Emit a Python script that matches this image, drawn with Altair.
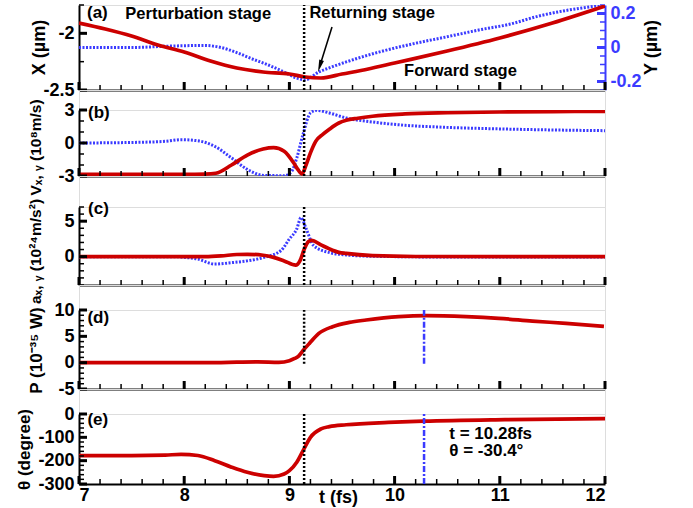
import altair as alt
import pandas as pd

# ---------------- data ----------------
# panel (a): X (left axis) and Y (right axis), micrometres
t_X = [7.0, 7.25, 7.5, 7.75, 8.0, 8.25, 8.5, 8.75, 9.0, 9.15, 9.3, 9.5, 9.75, 10.0, 10.5, 11.0, 11.5, 12.0]
X_um = [-1.909, -1.962, -2.024, -2.103, -2.165, -2.244, -2.306, -2.341, -2.359, -2.385, -2.394,
        -2.359, -2.315, -2.262, -2.156, -2.041, -1.909, -1.759]
t_Y = [7.0, 7.5, 7.9, 8.2, 8.35, 8.5, 8.65, 8.8, 8.95, 9.07, 9.15, 9.28, 9.4, 9.54, 9.85, 10.17,
       10.49, 10.8, 11.1, 11.37, 11.65, 12.0]
Y_um = [0.0, 0.0, 0.009, 0.012, 0.0, -0.03, -0.068, -0.103, -0.144, -0.18, -0.19, -0.144, -0.115,
        -0.085, -0.027, 0.021, 0.062, 0.103, 0.138, 0.185, 0.22, 0.25]

# panel (b): Vx (red), Vy (blue dotted), 10^8 m/s
t_Vx = [7.0, 8.0, 8.2, 8.3, 8.45, 8.6, 8.75, 8.85, 8.95, 9.04, 9.08, 9.12, 9.16, 9.2, 9.25, 9.32,
        9.38, 9.47, 9.54, 9.65, 9.79, 10.1, 10.5, 11.0, 11.5, 12.0]
Vx = [-2.85, -2.85, -2.83, -2.75, -2.0, -1.1, -0.55, -0.42, -0.75, -1.8, -2.4, -2.8, -1.95, -0.9,
      0.15, 0.8, 1.25, 1.82, 2.06, 2.25, 2.43, 2.64, 2.75, 2.82, 2.86, 2.88]
t_Vy = [7.0, 7.5, 7.82, 7.97, 8.13, 8.29, 8.45, 8.6, 8.76, 8.95, 9.02, 9.07, 9.13, 9.2, 9.26,
        9.38, 9.54, 9.79, 10.1, 10.42, 11.05, 12.0]
Vy = [0.0, 0.05, 0.15, 0.3, 0.2, -0.3, -1.36, -2.4, -2.95, -2.97, -2.6, -1.36, 0.8, 2.73, 2.97,
      2.73, 2.27, 1.91, 1.61, 1.45, 1.27, 1.12]

# panel (c): ax (red), ay (blue dotted), 10^24 m/s^2
t_ax = [7.0, 8.2, 8.35, 8.5, 8.6, 8.75, 8.85, 8.95, 9.06, 9.1, 9.14, 9.18, 9.21, 9.3, 9.38, 9.47,
        9.54, 9.79, 10.2, 12.0]
ax = [0.0, 0.0, 0.1, 0.3, 0.33, 0.2, -0.1, -0.6, -1.2, -0.6, 1.0, 2.1, 2.3, 1.66, 1.09, 0.6,
      0.45, 0.14, 0.02, 0.0]
t_ay = [7.0, 7.9, 8.0, 8.13, 8.29, 8.45, 8.6, 8.76, 8.92, 9.0, 9.07, 9.11, 9.16, 9.23, 9.38, 9.54,
        9.8, 10.5, 12.0]
ay = [0.0, 0.0, -0.1, -0.35, -1.05, -0.85, -0.6, -0.1, 0.86, 2.5, 3.9, 5.5, 3.9, 1.57, 0.57,
      0.24, 0.05, -0.05, -0.05]

# panel (d): radiated power, 10^-35 W
t_P = [7.0, 8.3, 8.5, 8.7, 8.9, 9.0, 9.05, 9.09, 9.13, 9.19, 9.28, 9.41, 9.57, 9.73, 10.04, 10.3,
       10.68, 10.99, 11.31, 11.63, 11.99]
P = [0.0, 0.0, 0.1, 0.15, 0.05, 0.38, 0.8, 1.3, 2.3, 3.66, 5.56, 6.83, 7.65, 8.1, 8.73, 8.92,
     8.73, 8.41, 7.9, 7.46, 6.89]

# panel (e): emission angle, degree
t_th = [7.0, 7.5, 7.82, 7.97, 8.13, 8.29, 8.45, 8.6, 8.76, 8.85, 8.95, 9.0, 9.07, 9.13, 9.2, 9.3,
        9.38, 9.54, 9.94, 10.28, 11.05, 12.0]
theta = [-178, -178, -176, -173, -178, -200, -228, -250, -264, -267, -257, -243, -207, -157, -100,
         -64, -54, -46, -36, -30.4, -24, -20]

# markers
t_return = 9.14
t_mark = 10.28

# ticks
x_major = [7, 8, 9, 10, 11, 12]
x_minor = [7.2, 7.4, 7.6, 7.8, 8.2, 8.4, 8.6, 8.8, 9.2, 9.4, 9.6, 9.8, 10.2, 10.4, 10.6, 10.8,
           11.2, 11.4, 11.6, 11.8]

RED = "#cc0000"
BLUE = "#3b3bff"
FONT = "Liberation Sans"
W = 526
XD = [7, 12]
LBL = dict(labelFont=FONT, labelFontWeight="bold", labelFontSize=18, titleFont=FONT,
           titleFontWeight="bold")


def xs():
    return alt.Scale(domain=XD, nice=False, zero=False)


def ys(dom):
    return alt.Scale(domain=dom, nice=False, zero=False)


def x_axis(last=False):
    if last:
        return alt.Axis(values=x_major, labelExpr="'' + datum.value", ticks=False, grid=False,
                        title="t (fs)", titleX=259, titleY=4, titleAlign="center",
                        titleBaseline="top", titleFontSize=18, labelPadding=2,
                        labelColor="black", titleColor="black", domainColor="black",
                        domainWidth=2, **LBL)
    return alt.Axis(values=x_major, labels=False, ticks=False, grid=False, title=None,
                    domainColor="black", domainWidth=2)


def y_axis(values, title, tx, ty, orient="left", color="black", tsize=17):
    return alt.Axis(values=values, labelExpr="'' + datum.value", orient=orient, ticks=False,
                    grid=False, title=title, titleX=tx, titleY=ty, titleBaseline="middle",
                    titleAlign="center", titleAngle=270, titleFontSize=tsize, titleColor="black",
                    labelColor=color, domainColor=color, domainWidth=2, labelPadding=5, **LBL)


class Panel:
    def __init__(self, dom, xa, ya, h):
        self.dom, self.xa, self.ya, self.h = dom, xa, ya, h

    def X(self, f):
        return alt.X(f, type="quantitative", scale=xs(), axis=self.xa)

    def Y(self, f):
        return alt.Y(f, type="quantitative", scale=ys(self.dom), axis=self.ya)

    def line(self, t, v, color, dotted):
        df = pd.DataFrame({"t": t, "v": v})
        kw = dict(color=color, interpolate="monotone", clip=True)
        if dotted:
            kw.update(strokeDash=[2, 1.5], strokeWidth=3)
        else:
            kw.update(strokeWidth=3.7)
        return alt.Chart(df).mark_line(**kw).encode(x=self.X("t"), y=self.Y("v"))

    def xticks(self):
        out = []
        for vals, size, w in [(x_major, 8, 3), (x_minor, 5, 1.5)]:
            out.append(alt.Chart(pd.DataFrame({"v": vals})).mark_rule(color="black", strokeWidth=w).encode(
                x=self.X("v"), y=alt.value(self.h), y2=alt.value(self.h - size)))
        return out

    def yticks(self, major, minor, color="black", right=False):
        out = []
        for vals, size, w in [(major, 8, 3), (minor, 5, 1.5)]:
            x0 = W if right else 0
            x1 = W - size if right else size
            out.append(alt.Chart(pd.DataFrame({"v": vals})).mark_rule(color=color, strokeWidth=w).encode(
                y=self.Y("v"), x=alt.value(x0), x2=alt.value(x1)))
        return out

    def vline(self, t, lo, hi, color, dash, width):
        df = pd.DataFrame({"t": [t], "lo": [lo], "hi": [hi]})
        return alt.Chart(df).mark_rule(color=color, strokeDash=dash, strokeWidth=width).encode(
            x=self.X("t"), y=self.Y("lo"), y2="hi:Q")

    def texts(self, ts, vs, labels, size=16.5):
        df = pd.DataFrame({"t": ts, "v": vs, "s": labels})
        return alt.Chart(df).mark_text(align="left", baseline="alphabetic", fontSize=size,
                                       fontWeight="bold", font=FONT, color="black").encode(
            x=self.X("t"), y=self.Y("v"), text="s:N")


def spacer(h):
    return alt.Chart(pd.DataFrame({"v": [0]})).mark_point(opacity=0).encode(
        x=alt.X("v:Q", axis=None), y=alt.Y("v:Q", axis=None)).properties(width=W, height=h)


# ---------------- panel (a) ----------------
HA = 85
A_L = Panel([-2.5, -1.75], x_axis(), y_axis([-2.5, -2], "X (\u00b5m)", -40, 42, tsize=18), HA)
A_R = Panel([-0.25, 0.25], x_axis(),
            y_axis([-0.2, 0, 0.2], "Y (\u00b5m)", 46, 42, orient="right", color=BLUE, tsize=18), HA)
right_a = alt.layer(
    A_R.line(t_Y, Y_um, BLUE, True),
    *A_R.yticks([-0.2, 0, 0.2], [-0.25, -0.15, -0.1, -0.05, 0.05, 0.1, 0.15, 0.25], BLUE, right=True),
)
arrow_df = pd.DataFrame({"t": [9.405], "v": [-1.944], "t2": [9.289], "v2": [-2.289]})
arrow_line = alt.Chart(arrow_df).mark_rule(color="black", strokeWidth=1.5).encode(
    x=A_L.X("t"), y=A_L.Y("v"), x2="t2:Q", y2="v2:Q")
arrow_head = alt.Chart(arrow_df).mark_point(shape="M0,1L-0.4,-1L0.4,-1Z", filled=True, color="black",
                                            opacity=1, size=150, angle=17).encode(
    x=A_L.X("t2"), y=A_L.Y("v2"))
left_a = alt.layer(
    A_L.line(t_X, X_um, RED, False),
    *A_L.xticks(),
    *A_L.yticks([-2.5, -2], [-2.25, -1.75]),
    A_L.vline(t_return, -2.5, -1.75, "black", [2, 2], 2.5),
    A_L.texts([7.076], [-1.865], ["(a)"], 17),
    A_L.texts([7.44, 9.19, 10.09], [-1.874, -1.865, -2.377],
              ["Perturbation stage", "Returning stage", "Forward stage"]),
    arrow_line, arrow_head,
)
pa = alt.layer(right_a, left_a).resolve_scale(y="independent").properties(width=W, height=HA)

# ---------------- panel (b) ----------------
HB = 66
B = Panel([-3, 3], x_axis(), y_axis([-3, 0, 3], "V\u2093, \u1d67 (10\u2078m/s)", -44, 37, tsize=15.5), HB)
pb = alt.layer(
    B.line(t_Vy, Vy, BLUE, True),
    B.line(t_Vx, Vx, RED, False),
    *B.xticks(),
    *B.yticks([-3, 0, 3], [-2, -1, 1, 2]),
    B.vline(t_return, -3, 3, "black", [2, 2], 2.5),
    B.texts([7.086], [2.27], ["(b)"], 17),
).properties(width=W, height=HB)

# ---------------- panel (c) ----------------
HC = 78
C = Panel([-4, 7], x_axis(),
          y_axis([0, 5], "a\u2093, \u1d67 (10\u00b2\u2074m/s\u00b2)", -44, 44, tsize=15.5), HC)
pc = alt.layer(
    C.line(t_ay, ay, BLUE, True),
    C.line(t_ax, ax, RED, False),
    *C.xticks(),
    *C.yticks([0, 5], [-4, -3, -2, -1, 1, 2, 3, 4, 6, 7]),
    C.vline(t_return, -4, 7, "black", [2, 2], 2.5),
    C.texts([7.086], [6.05], ["(c)"], 17),
).properties(width=W, height=HC)

# ---------------- panel (d) ----------------
HD = 79
D = Panel([-5, 10], x_axis(), y_axis([-5, 0, 5, 10], "P (10\u207b\u00b3\u2075 W)", -43, 40), HD)
pd_ = alt.layer(
    D.line(t_P, P, RED, False),
    *D.xticks(),
    *D.yticks([-5, 0, 5, 10], [-4, -3, -2, -1, 1, 2, 3, 4, 6, 7, 8, 9]),
    D.vline(t_return, -0.2, 10, "black", [2, 2], 2.5),
    D.vline(t_mark, -0.2, 10, BLUE, [6, 2, 2, 2], 2.5),
    D.texts([7.08], [7.6], ["(d)"], 17),
).properties(width=W, height=HD)

# ---------------- panel (e) ----------------
HE = 70
E = Panel([-300, 0], x_axis(last=True),
          y_axis([-300, -200, -100, 0], "\u03b8 (degree)", -55, 35), HE)
pe = alt.layer(
    E.line(t_th, theta, RED, False),
    *E.xticks(),
    *E.yticks([-300, -200, -100, 0],
              [-280, -260, -240, -220, -180, -160, -140, -120, -80, -60, -40, -20]),
    E.vline(t_return, -300, 0, "black", [2, 2], 2.5),
    E.vline(t_mark, -300, 0, BLUE, [6, 2, 2, 2], 2.5),
    E.texts([7.08], [-48], ["(e)"], 17),
    E.texts([10.52, 10.52], [-105, -182], ["t = 10.28fs", "\u03b8 = -30.4\u00b0"], 17),
).properties(width=W, height=HE)

chart = alt.vconcat(pa, spacer(20), pb, spacer(31), pc, spacer(25), pd_, spacer(25), pe,
                    spacing=0, bounds="flush").properties(
    padding={"left": 14, "top": 3, "right": 5, "bottom": 5}
).configure_view(stroke=None).configure(background="white")

chart.save("out.html", embed_options={"renderer": "svg", "actions": False})
